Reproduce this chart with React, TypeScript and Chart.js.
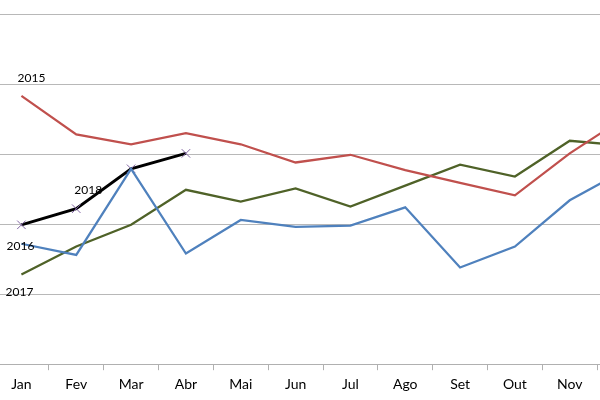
import React, { useEffect, useRef } from "react";
import { Chart, registerables } from "chart.js";

Chart.register(...registerables);

const months = ["Jan", "Fev", "Mar", "Abr", "Mai", "Jun", "Jul", "Ago", "Set", "Out", "Nov", "Dez"];
const s2015 = [3.83, 3.28, 3.14, 3.3, 3.14, 2.88, 2.99, 2.77, 2.59, 2.41, 3.01, 3.52];
const s2016 = [1.72, 1.56, 2.79, 1.58, 2.06, 1.96, 1.98, 2.24, 1.38, 1.68, 2.34, 2.77];
const s2017 = [1.28, 1.68, 1.99, 2.49, 2.32, 2.51, 2.25, 2.55, 2.85, 2.68, 3.19, 3.12];
const s2018 = [1.99, 2.22, 2.79, 3.01];
const seriesNames = ["2015", "2016", "2017", "2018"];
const yTicks = [0, 1, 2, 3, 4, 5];

// label placement: [dataset index, point index, dx, dy]
const labelPlacement: [number, number, number, number][] = [
  [0, 0, 10, -18],
  [1, 0, -1, 2],
  [2, 0, -2, 18],
  [3, 1, 12, -19],
];

const seriesLabelPlugin = {
  id: "seriesLabels",
  afterDatasetsDraw(chart: any) {
    const ctx = chart.ctx;
    ctx.save();
    ctx.font = "12px Lato, 'Open Sans', sans-serif";
    ctx.fillStyle = "#000";
    ctx.textAlign = "center";
    ctx.textBaseline = "middle";
    labelPlacement.forEach(([di, pi, dx, dy]) => {
      const meta = chart.getDatasetMeta(di);
      const pt = meta.data[pi];
      if (!pt) return;
      ctx.fillText(chart.data.datasets[di].label, pt.x + dx, pt.y + dy);
    });
    ctx.restore();
  },
};

export default function App() {
  const ref = useRef<HTMLCanvasElement>(null);
  useEffect(() => {
    if (!ref.current) return;
    const chart = new Chart(ref.current, {
      type: "line",
      data: {
        labels: months,
        datasets: [
          { label: seriesNames[0], data: s2015, borderColor: "#C0504D", borderWidth: 2.25, pointRadius: 0, tension: 0 },
          { label: seriesNames[1], data: s2016, borderColor: "#4F81BD", borderWidth: 2.25, pointRadius: 0, tension: 0 },
          { label: seriesNames[2], data: s2017, borderColor: "#4F6228", borderWidth: 2.25, pointRadius: 0, tension: 0 },
          {
            label: seriesNames[3],
            data: s2018,
            borderColor: "#000000",
            borderWidth: 3,
            pointStyle: "cross",
            rotation: 45,
            pointRadius: 6,
            pointBorderColor: "#8064A2",
            pointBorderWidth: 1,
            tension: 0,
          },
        ],
      },
      options: {
        responsive: false,
        animation: false,
        layout: { padding: { top: 14, bottom: 1, left: 0, right: 0 } },
        plugins: { legend: { display: false }, tooltip: { enabled: false } },
        scales: {
          x: {
            offset: true,
            grid: { offset: true, drawOnChartArea: false, drawTicks: true, tickLength: 6, color: "#B0B0B0" },
            border: { color: "#B0B0B0", width: 1 },
            ticks: { color: "#000", font: { family: "Lato, 'Open Sans', sans-serif", size: 14 }, padding: 6, maxRotation: 0, autoSkip: false },
          },
          y: {
            min: 0,
            max: 5,
            afterBuildTicks: (axis: any) => {
              axis.ticks = yTicks.map((v) => ({ value: v }));
            },
            ticks: { display: false },
            grid: { drawTicks: false, color: "#B8B8B8", lineWidth: 1 },
            border: { display: false },
          },
        },
      },
      plugins: [seriesLabelPlugin],
    });
    return () => chart.destroy();
  }, []);
  return (
    <div style={{ position: "fixed", left: 0, top: 0, width: 600, height: 400, overflow: "hidden", background: "#fff" }}>
      <canvas ref={ref} width={672} height={400} style={{ position: "absolute", left: -12.6, top: 0 }} />
    </div>
  );
}
